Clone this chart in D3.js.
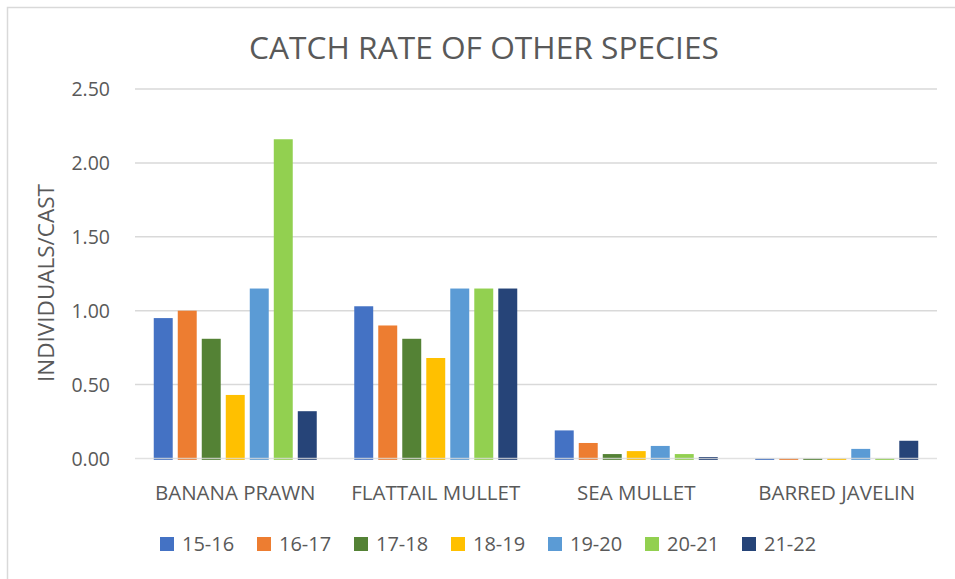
<!DOCTYPE html>
<html>
<head>
<meta charset="utf-8">
<script src="https://cdn.jsdelivr.net/npm/d3@7"></script>
<style>
  body { margin: 0; background: #fff; }
  text { font-family: "Open Sans", sans-serif; fill: #595959; }
</style>
</head>
<body>
<div id="chart"></div>
<script>
// data
var species = ["BANANA PRAWN", "FLATTAIL MULLET", "SEA MULLET", "BARRED JAVELIN"];
var seasons = ["15-16", "16-17", "17-18", "18-19", "19-20", "20-21", "21-22"];
var s1516 = [0.95, 1.03, 0.19, 0.00];
var s1617 = [1.00, 0.90, 0.105, 0.00];
var s1718 = [0.81, 0.81, 0.03, 0.00];
var s1819 = [0.43, 0.68, 0.05, 0.00];
var s1920 = [1.15, 1.15, 0.085, 0.065];
var s2021 = [2.16, 1.15, 0.03, 0.00];
var s2122 = [0.32, 1.15, 0.01, 0.12];
var yTicks = [0, 0.5, 1, 1.5, 2, 2.5];

var allSeries = [s1516, s1617, s1718, s1819, s1920, s2021, s2122];
var colors = ["#4472C4", "#ED7D31", "#548235", "#FFC000", "#5B9BD5", "#92D050", "#264478"];

var width = 955, height = 579;
var plotLeft = 135, plotRight = 937, plotTop = 89, plotBottom = 458.5;

var svg = d3.select("#chart").append("svg")
    .attr("width", width)
    .attr("height", height);

// chart border (runs off right/bottom edge)
svg.append("rect")
    .attr("x", 7.5).attr("y", 7.5)
    .attr("width", width + 20).attr("height", height + 20)
    .attr("fill", "none")
    .attr("stroke", "#d9d9d9")
    .attr("stroke-width", 1.5);

var y = d3.scaleLinear().domain([0, 2.5]).range([plotBottom, plotTop]);

var x0 = d3.scaleBand().domain(species).range([plotLeft, plotRight]);
var groupW = 163;
var x1 = d3.scaleBand().domain(seasons)
    .range([(x0.bandwidth() - groupW) / 2, (x0.bandwidth() + groupW) / 2])
    .paddingInner(0.21);

// gridlines (zero line goes on top of the bars later)
svg.append("g")
    .selectAll("line")
    .data(yTicks.filter(function(d) { return d > 0; }))
    .enter()
    .append("line")
    .attr("x1", plotLeft).attr("x2", plotRight)
    .attr("y1", function(d) { return y(d); })
    .attr("y2", function(d) { return y(d); })
    .attr("stroke", "#d9d9d9")
    .attr("stroke-width", 1.5);

// y tick labels
svg.append("g")
    .selectAll("text")
    .data(yTicks)
    .enter()
    .append("text")
    .attr("x", 110)
    .attr("y", function(d) { return y(d) + 7; })
    .attr("text-anchor", "end")
    .style("font-size", "19.5px")
    .text(function(d) { return d3.format(".2f")(d); });

// bars
var groups = svg.append("g")
    .selectAll("g")
    .data(species)
    .enter()
    .append("g")
    .attr("transform", function(d) { return "translate(" + x0(d) + ",0)"; });

groups.selectAll("rect")
    .data(function(d, i) {
        return seasons.map(function(s, j) { return { season: s, value: allSeries[j][i], idx: j }; });
    })
    .enter()
    .append("rect")
    .attr("x", function(d) { return x1(d.season); })
    .attr("width", x1.bandwidth())
    .attr("y", function(d) { return y(d.value); })
    .attr("height", function(d) { return plotBottom - y(d.value) + 1.5; })
    .attr("fill", function(d) { return colors[d.idx]; });

// zero line over the bars
svg.append("line")
    .attr("x1", plotLeft).attr("x2", plotRight)
    .attr("y1", y(0)).attr("y2", y(0))
    .attr("stroke", "#d9d9d9")
    .attr("stroke-opacity", 0.8)
    .attr("stroke-width", 1.5);

// category labels
svg.append("g")
    .selectAll("text")
    .data(species)
    .enter()
    .append("text")
    .attr("x", function(d) { return x0(d) + x0.bandwidth() / 2; })
    .attr("y", 500)
    .attr("text-anchor", "middle")
    .style("font-size", "20.5px")
    .text(function(d) { return d; });

// axis title
svg.append("text")
    .attr("transform", "translate(54,283) rotate(-90)")
    .attr("text-anchor", "middle")
    .style("font-size", "22.5px")
    .text("INDIVIDUALS/CAST");

// chart title
svg.append("text")
    .attr("x", 484)
    .attr("y", 59)
    .attr("text-anchor", "middle")
    .style("font-size", "31.7px")
    .text("CATCH RATE OF OTHER SPECIES");

// legend
var legend = svg.append("g")
    .selectAll("g")
    .data(seasons)
    .enter()
    .append("g")
    .attr("transform", function(d, i) { return "translate(" + (160 + i * 97) + ",537)"; });

legend.append("rect")
    .attr("width", 14).attr("height", 14)
    .attr("fill", function(d, i) { return colors[i]; });

legend.append("text")
    .attr("x", 22)
    .attr("y", 14)
    .style("font-size", "20px")
    .text(function(d) { return d; });
</script>
</body>
</html>
